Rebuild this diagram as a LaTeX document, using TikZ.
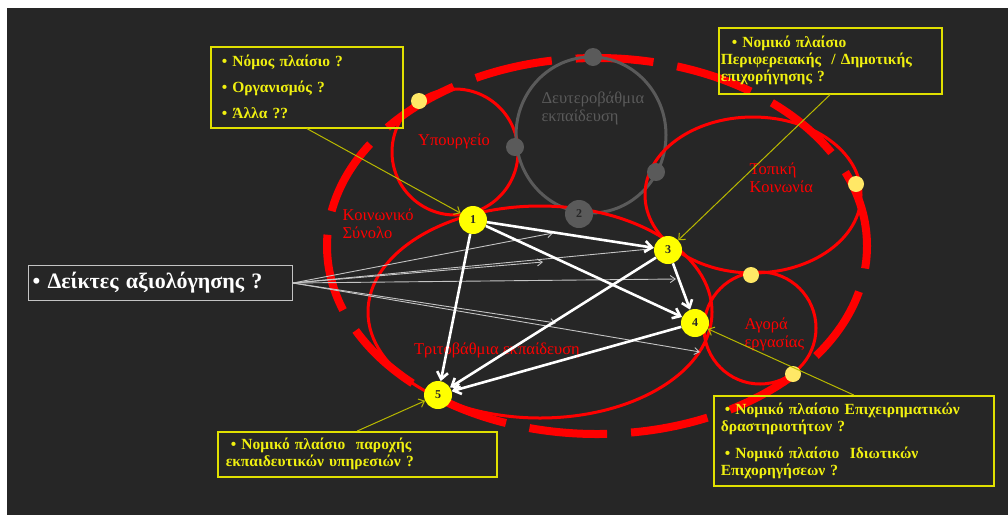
\documentclass[tikz,border=0pt]{standalone}
\usepackage{fontspec}
\setmainfont{Liberation Serif}
\usetikzlibrary{arrows.meta}

\definecolor{Slate}{HTML}{262626}
\definecolor{Ash}{HTML}{5A5A5A}
\definecolor{Lemon}{HTML}{FFFF00}
\definecolor{PaleLemon}{HTML}{FFE866}
\definecolor{NoteText}{HTML}{F0F010}
\definecolor{NoteEdge}{HTML}{E0E000}
\definecolor{OliveLine}{HTML}{B8B800}
\definecolor{Fog}{HTML}{C4C4C4}

\begin{document}
\begin{tikzpicture}[x=1pt, y=-1pt]
        \tikzstyle Frame Line=[line width=8pt, color=red, dash pattern=on 78pt off 24pt]
        \tikzstyle Region Line=[line width=3pt, color=red]
        \tikzstyle Shade Line=[Region Line, color=Ash]
        \tikzstyle Hub Node=[circle, fill=Lemon, minimum size=28pt, inner sep=0pt, text=Slate,
                font=\fontsize{12}{12}\selectfont\bfseries]
        \tikzstyle Dot Node=[circle, fill=PaleLemon, minimum size=16pt, inner sep=0pt]
        \tikzstyle Ash Dot=[Dot Node, fill=Ash, minimum size=18pt]
        \tikzstyle Region Label=[text=red, align=left, font=\fontsize{16.5}{18}\selectfont]
        \tikzstyle Note Box=[draw=NoteEdge, line width=1.5pt, anchor=north west, align=left,
                text=NoteText, font=\fontsize{15.5}{17}\selectfont\bfseries]
        \tikzstyle Flow Arrow=[draw=white, line width=2.6pt, -{Straight Barb[length=7pt, width=11pt]}]
        \tikzstyle Hint Arrow=[draw=Fog, line width=0.9pt, -{Straight Barb[length=5pt, width=7pt]}]
        \tikzstyle Call Line=[draw=OliveLine, line width=1pt, -{Straight Barb[length=5pt, width=9pt]}]

        % canvas
        \useasboundingbox (0, 0) rectangle (1008, 515);
        \fill[white] (0, 0) rectangle (1008, 515);
        \fill[Slate] (7, 8) rectangle (1008, 515);

        % regions
        \draw[Frame Line] (597, 246) ellipse [x radius=270pt, y radius=188pt];
        \draw[Region Line] (455, 152) circle [radius=63pt];
        \draw[Shade Line] (591, 135) ellipse [x radius=75pt, y radius=78pt];
        \draw[Region Line] (753, 195) ellipse [x radius=108pt, y radius=78pt];
        \draw[Region Line] (760, 328) circle [radius=56pt];
        \draw[Region Line] (540, 312) ellipse [x radius=172pt, y radius=106pt];

        % region labels
        \node[Region Label] (ministry) at (454, 141) {Υπουργείο};
        \node[Region Label, text=Ash, anchor=west] (secondary) at (538, 108) {Δευτεροβάθμια\\εκπαίδευση};
        \node[Region Label, anchor=west] (society) at (339, 224) {Κοινωνικό\\Σύνολο};
        \node[Region Label, anchor=west] (local) at (746, 178) {Τοπική\\Κοινωνία};
        \node[Region Label, anchor=west] (market) at (741, 334) {Αγορά\\εργασίας};
        \node[Region Label] (tertiary) at (497, 350) {Τριτοβάθμια εκπαίδευση};

        % contact dots
        \node[Dot Node] (d1) at (419, 101) {};
        \node[Dot Node] (d2) at (856, 184) {};
        \node[Dot Node] (d3) at (751, 275) {};
        \node[Dot Node] (d4) at (793, 374) {};
        \node[Ash Dot] (g1) at (593, 57) {};
        \node[Ash Dot] (g2) at (515, 147) {};
        \node[Ash Dot] (g3) at (656, 172) {};
        \node[Hub Node, fill=Ash] (h2) at (579, 214) {2};

        % hubs
        \node[Hub Node] (h1) at (473, 220) {1};
        \node[Hub Node] (h3) at (668, 250) {3};
        \node[Hub Node] (h4) at (695, 323) {4};
        \node[Hub Node] (h5) at (438, 395) {5};

        % indicators
        \node[Note Box, draw=Fog, line width=1pt, text=white, minimum width=264pt, minimum height=35pt,
                text width=256pt, inner xsep=4pt, font=\fontsize{22}{24}\selectfont\bfseries]
                (ind) at (28, 265) {• Δείκτες αξιολόγησης ?};
        \coordinate (t1) at (553, 233);
        \coordinate (t2) at (543, 262);
        \coordinate (t3) at (650, 249);
        \coordinate (t4) at (676, 279);
        \coordinate (t5) at (556, 323);
        \coordinate (t6) at (700, 352);
        \foreach \t in {t1, t2, t3, t4, t5, t6}
                \draw[Hint Arrow] (ind.east) -- (\t);

        % flows
        \draw[Flow Arrow] (h1) -- (h3);
        \draw[Flow Arrow] (h1) -- (h4);
        \draw[Flow Arrow] (h1) -- (h5);
        \draw[Flow Arrow] (h3) -- (h4);
        \draw[Flow Arrow] (h3) -- (h5);
        \draw[Flow Arrow] (h4) -- (h5);

        % legal notes
        \node[Note Box, minimum width=192pt, minimum height=81pt, text width=170pt, inner xsep=11pt,
                font=\fontsize{15.5}{26}\selectfont\bfseries]
                (lawA) at (210, 46) {• Νόμος πλαίσιο ?\\• Οργανισμός ?\\• Άλλα ??};
        \node[Note Box, minimum width=223pt, minimum height=66pt, text width=219pt, inner xsep=2pt]
                (lawB) at (718, 27) {\hspace*{11pt}• Νομικό πλαίσιο\\Περιφερειακής~~/ Δημοτικής\\επιχορήγησης ?};
        \node[Note Box, minimum width=279pt, minimum height=45pt, text width=263pt, inner xsep=8pt]
                (lawD) at (217, 431) {\hspace*{5pt}• Νομικό πλαίσιο~~παροχής\\εκπαιδευτικών υπηρεσιών ?};
        \node[Note Box, minimum width=280pt, minimum height=90pt, text width=266pt, inner xsep=7pt]
                (lawE) at (713, 395) {\hspace*{4pt}• Νομικό πλαίσιο Επιχειρηματικών\\δραστηριοτήτων ?\\[10pt]%
                \hspace*{4pt}• Νομικό πλαίσιο~~Ιδιωτικών\\Επιχορηγήσεων ?};

        \draw[Call Line] (lawA.south) -- (h1);
        \draw[Call Line] (lawB.south) -- (h3);
        \draw[Call Line] (lawD.north) -- (h5);
        \draw[Call Line] (lawE.north) -- (h4);
\end{tikzpicture}
\end{document}
